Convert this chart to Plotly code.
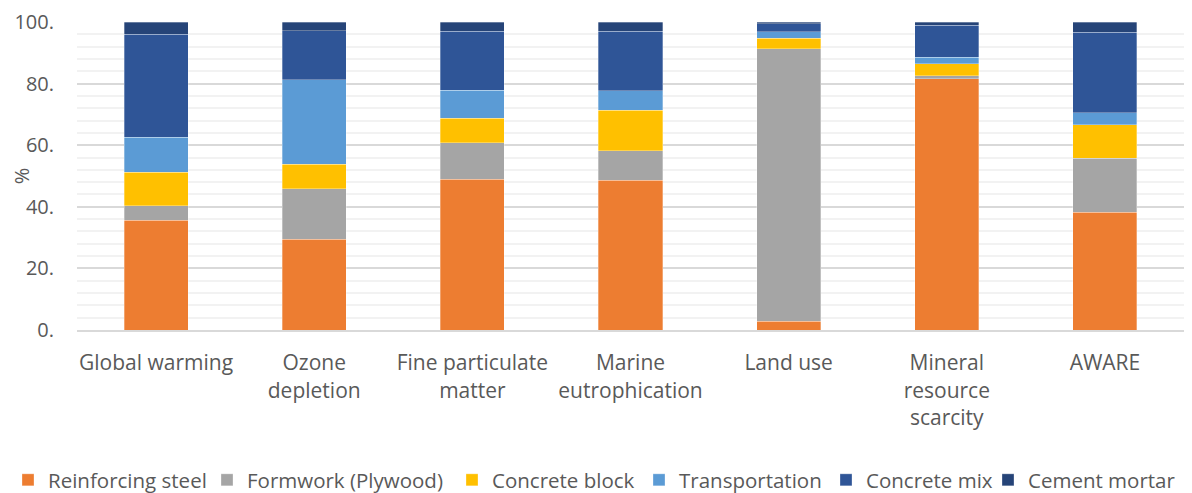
import plotly.graph_objects as go

categories = ["Global warming", "Ozone<br>depletion", "Fine particulate<br>matter",
              "Marine<br>eutrophication", "Land use", "Mineral<br>resource<br>scarcity", "AWARE"]

reinforcing_steel = [35.7, 29.5, 48.9, 48.6, 2.8, 81.6, 38.2]
formwork_plywood = [4.6, 16.4, 11.9, 9.6, 88.5, 1.0, 17.5]
concrete_block = [10.9, 7.9, 8.0, 13.1, 3.5, 3.9, 11.0]
transportation = [11.4, 27.4, 9.0, 6.3, 2.0, 2.0, 3.8]
concrete_mix = [33.4, 15.9, 19.2, 19.4, 2.7, 10.5, 26.2]
cement_mortar = [4.0, 2.9, 3.0, 3.0, 0.5, 1.0, 3.3]

y_ticks = [0, 20, 40, 60, 80, 100]
y_tick_text = ["0.", "20.", "40.", "60.", "80.", "100."]

series = [
    ("Reinforcing steel", reinforcing_steel, "#ED7D31"),
    ("Formwork (Plywood)", formwork_plywood, "#A5A5A5"),
    ("Concrete block", concrete_block, "#FFC000"),
    ("Transportation", transportation, "#5B9BD5"),
    ("Concrete mix", concrete_mix, "#2F5597"),
    ("Cement mortar", cement_mortar, "#264478"),
]

FONT = "Open Sans"
TEXT = "#595959"
W, H = 1192, 493

# left edge of each legend entry (figure px); one legend per series so the
# row never wraps and each entry sits where the reference puts it
legend_left_px = [0, 199, 444, 631, 818, 980]

fig = go.Figure()
for i, (name, vals, color) in enumerate(series):
    lid = "legend" if i == 0 else f"legend{i + 1}"
    fig.add_trace(go.Bar(x=categories, y=vals, name=name, marker_color=color, legend=lid,
                         marker_line=dict(width=0.6, color="rgba(255,255,255,0.5)")))
    fig.update_layout({lid: dict(orientation="h", xref="container", yref="container",
                                 x=legend_left_px[i] / W, xanchor="left",
                                 y=1 - 472 / H, yanchor="middle",
                                 font=dict(size=20.5, color=TEXT), itemwidth=30,
                                 bgcolor="rgba(0,0,0,0)")})

# the page body has an 8px margin, so margins are reduced by 8 on top/left
fig.update_layout(
    showlegend=True,
    barmode="stack",
    bargap=0.595,
    width=W, height=H,
    margin=dict(l=69, r=16, t=14, b=171),
    plot_bgcolor="white", paper_bgcolor="white",
    font=dict(family=FONT, size=21, color=TEXT),
    xaxis=dict(showline=True, linecolor="#D9D9D9", linewidth=2, ticks="",
               automargin=False, ticklabelstandoff=13,
               tickfont=dict(size=21, color=TEXT)),
    yaxis=dict(range=[0, 100], tickvals=y_ticks, ticktext=y_tick_text,
               automargin=False, ticklabelstandoff=22, ticklabeloverflow="allow",
               showgrid=True, gridcolor="#D9D9D9", gridwidth=1.5, zeroline=False,
               minor=dict(dtick=4, showgrid=True, gridcolor="#F2F2F2", gridwidth=1.5),
               tickfont=dict(size=20, color=TEXT),
               title=dict(text="%", font=dict(size=20, color=TEXT), standoff=2)),
)

fig.write_html("out.html")
